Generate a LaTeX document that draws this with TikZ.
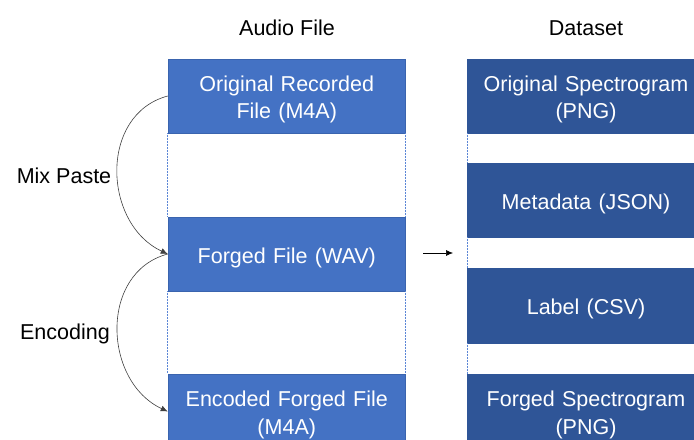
\documentclass[tikz,border=0pt]{standalone}
\usepackage{fontspec}
\setmainfont{Liberation Sans}
\usetikzlibrary{arrows.meta}
\definecolor{boxblue}{HTML}{4472C4}
\definecolor{darkblue}{HTML}{2F5597}
\definecolor{edgeblue}{HTML}{3A64AE}
\definecolor{dotblue}{HTML}{5B86D6}
\newcommand{\topstrut}{\rule{0pt}{22.5bp}}
\begin{document}
\begin{tikzpicture}[x=1bp,y=1bp,
  lbl/.style={font=\fontsize{21.6}{28}\selectfont, text=black, inner sep=0pt},
  filebox/.style={rectangle, fill=boxblue, draw=edgeblue, line width=0.5bp,
    minimum width=237.5bp, minimum height=74bp, text width=230bp, align=center,
    text=white, font=\fontsize{21.6}{28}\selectfont, inner sep=0pt},
  databox/.style={filebox, fill=darkblue, draw=darkblue},
  gapline/.style={dotblue, line width=0.7bp, dash pattern=on 0.7bp off 0.8bp},
  flow/.style={black!75, line width=0.6bp, -{Latex[length=7bp,width=6bp]}},
  pointer/.style={black, line width=0.6bp, -{Latex[length=7bp,width=6bp]}}
]
\useasboundingbox (0,0) rectangle (694,440);
\begin{scope}
\clip (0,0) rectangle (694,440);
% titles
\node[lbl] (t1) at (287,412) {Audio File};
\node[lbl] (t2) at (586,412) {Dataset};
% audio file column
\node[filebox] (orig) at (286.75,344) {\topstrut Original Recorded\\File (M4A)};
\node[filebox] (forged) at (286.75,186) {\topstrut Forged File (WAV)};
\node[filebox, minimum height=75bp] (enc) at (286.75,28.5) {\topstrut Encoded Forged File\\(M4A)};
% dataset column
\node[databox] (ospec) at (586,344) {\topstrut Original Spectrogram\\(PNG)};
\node[databox] (meta) at (586,240) {\topstrut Metadata (JSON)};
\node[databox, minimum height=75bp] (label) at (586,134.5) {\topstrut Label (CSV)};
\node[databox, minimum height=75bp] (fspec) at (586,28.5) {\topstrut Forged Spectrogram\\(PNG)};
% dotted column outlines
\draw[gapline] (orig.south west) -- (forged.north west);
\draw[gapline] (orig.south east) -- (forged.north east);
\draw[gapline] (forged.south west) -- (enc.north west);
\draw[gapline] (forged.south east) -- (enc.north east);
\draw[gapline] (ospec.south west) -- (meta.north west);
\draw[gapline] (meta.south west) -- (label.north west);
\draw[gapline] (label.south west) -- (fspec.north west);
\draw[gapline] (ospec.south east) -- (meta.north east);
\draw[gapline] (meta.south east) -- (label.north east);
\draw[gapline] (label.south east) -- (fspec.north east);
% curved process arrows
\draw[flow] (orig.west) to[out=195,in=155,looseness=1.16] (forged.west);
\draw[flow] (forged.west) to[out=195,in=155,looseness=1.16] (enc.west);
\node[lbl] (mix) at (64,264) {Mix Paste};
\node[lbl] (encl) at (65,106) {Encoding};
% pointer arrow
\coordinate (a0) at (423,187);
\coordinate (a1) at (453,187);
\draw[pointer] (a0) -- (a1);
\end{scope}
\end{tikzpicture}
\end{document}
